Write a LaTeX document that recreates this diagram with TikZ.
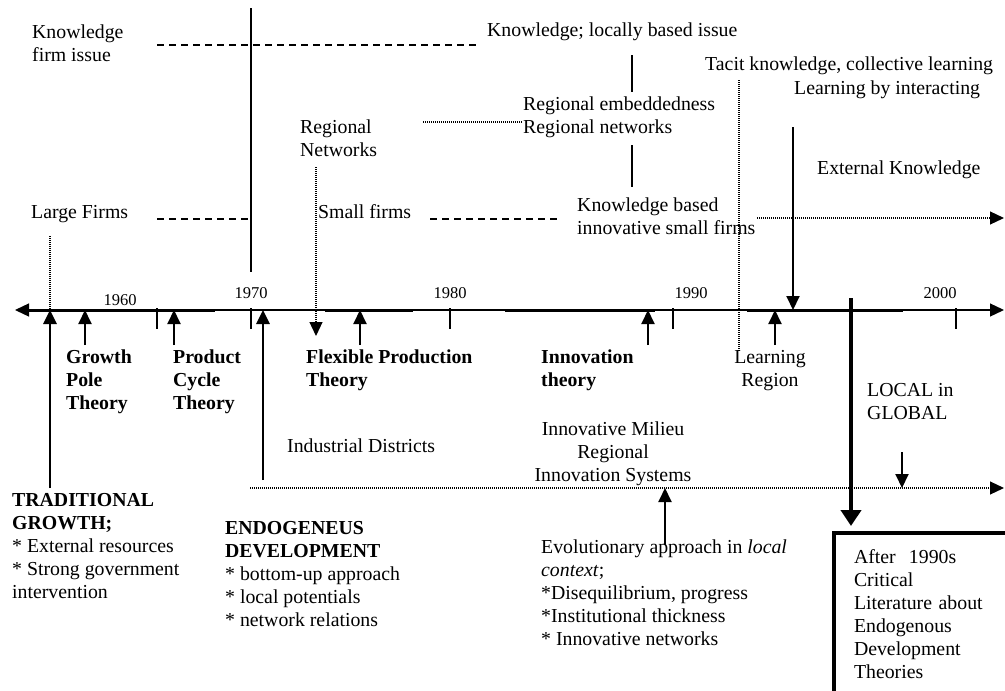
\documentclass[tikz,border=0pt]{standalone}
\usepackage{fontspec}
\setmainfont{Liberation Serif}
\usetikzlibrary{arrows.meta, calc}

\newcommand\bodysize{\fontsize{19.8}{23}\selectfont}

\tikzset{
  tri/.tip={Triangle[length=14pt, width=13pt]},
  txt/.style={inner sep=0pt, anchor=base west, align=left},
  bold/.style={txt, font=\bodysize\bfseries},
  ctxt/.style={inner sep=0pt, anchor=base, align=center},
  year/.style={inner sep=0pt, font=\fontsize{16.5}{19}\selectfont},
  plain/.style={line width=1.5pt},
  arr/.style={line width=2pt, -tri},
  longarr/.style={line width=2.8pt, -tri},
  bigarr/.style={line width=4.5pt, -{Triangle[length=16pt, width=20pt]}},
  dashline/.style={line width=1.5pt, dash pattern=on 6.5pt off 5.5pt},
  dotline/.style={line width=1.2pt, dash pattern=on 1pt off 1pt},
  critbox/.style={draw, line width=3.5pt, anchor=north west, outer sep=0pt,
    minimum width=180pt, minimum height=162pt, inner xsep=20pt,
    text width=140pt, align=left}
}

\begin{document}
\begin{tikzpicture}[x=1pt, y=-1pt, font=\bodysize]
\useasboundingbox (0,0) rectangle (1005,691);

%% time axis
\coordinate (tl) at (15,310);
\coordinate (tr) at (1004,310);
\draw[line width=1.3pt, tri-tri] (tl) -- (tr);
\foreach \a/\b in {20/215, 325/413, 505/655, 747/903}
  \draw[line width=3pt] (\a,310) -- (\b,310);
\foreach \x in {157, 251, 450, 673, 956}
  \draw[plain] (\x,308) -- (\x,329);

\node[year] (y60) at (120,300) {1960};
\node[year] (y70) at (251,293) {1970};
\node[year] (y80) at (450,293) {1980};
\node[year] (y90) at (691,293) {1990};
\node[year] (y00) at (940,293) {2000};

%% 1970 divider
\coordinate (v70) at (251,8);
\draw[plain] (v70) -- ++(0,264);

%% upper labels (base = last line)
\node[txt] (kfirm) at (32,61) {Knowledge\\firm issue};
\node[txt] (kloc) at (487,36) {Knowledge; locally based issue};
\node[txt] (tacit) at (705,70) {Tacit knowledge, collective learning};
\node[txt] (lbi) at (794,94) {Learning by interacting};
\node[txt] (embed) at (523,133) {Regional embeddedness\\Regional networks};
\node[txt] (regnet) at (300,156) {Regional\\Networks};
\node[txt] (extk) at (817,174) {External Knowledge};
\node[txt] (large) at (31,218) {Large Firms};
\node[txt] (small) at (318,218) {Small firms};
\node[txt] (kbased) at (577,234) {Knowledge based\\innovative small firms};

%% dashed links
\coordinate (dk) at (157,45);
\coordinate (dl) at (157,219);
\coordinate (ds) at (430,219);
\draw[dashline] (dk) -- ++(320,0);
\draw[dashline] (dl) -- (dl -| v70);
\draw[dashline] (ds) -- ++(127,0);

%% short solid links
\coordinate (s1) at (632,55);
\coordinate (s2) at (632,145);
\draw[plain] (s1) -- ++(0,37);
\draw[plain] (s2) -- ++(0,42);

%% dotted links
\coordinate (dv1) at (50,236);
\coordinate (dh1) at (423,122);
\coordinate (dv2) at (739,80);
\coordinate (dext) at (757,218);
\coordinate (dsys) at (250,488);
\draw[dotline] (dv1) -- (dv1 |- tl);
\draw[dotline] (dh1) -- (dh1 -| embed.west);
\draw[dotline] (dv2) -- ++(0,272);
\draw[dotline, -tri] (dext) -- (dext -| tr);
\draw[dotline, -tri] (dsys) -- (dsys -| tr);

%% arrows up to the axis
\foreach \x/\y/\s in {50/488/longarr, 85/345/arr, 174/345/arr, 263/480/longarr,
                      360/345/arr, 648/345/arr, 775/345/arr}{
  \coordinate (u\x) at (\x,\y);
  \draw[\s] (u\x) -- (u\x |- tl);
}

%% arrows down
\coordinate (rn) at (316,167);
\draw[dotline, -tri] (rn) -- ++(0,169);
\coordinate (lbd) at (793,127);
\draw[arr] (lbd) -- (lbd |- tl);
\coordinate (dn) at (902,452);
\draw[arr] (dn) -- (dn |- dsys);
\coordinate (ev) at (665,545);
\draw[arr] (ev) -- (ev |- dsys);

%% lower labels
\node[bold] (gpole) at (66,409) {Growth\\Pole\\Theory};
\node[bold] (pcycle) at (173,409) {Product\\Cycle\\Theory};
\node[bold] (flex) at (306,386) {Flexible Production\\Theory};
\node[bold] (innov) at (541,386) {Innovation\\theory};
\node[ctxt] (lreg) at (770,386) {Learning\\Region};
\node[txt] (local) at (867,419) {LOCAL in\\GLOBAL};
\node[txt] (indd) at (287,452) {Industrial Districts};
\node[ctxt] (milieu) at (613,481) {Innovative Milieu\\Regional\\Innovation Systems};

\node[txt] (trad) at (12,598) {\textbf{TRADITIONAL}\\\textbf{GROWTH;}\\* External resources\\* Strong government\\intervention};
\node[txt] (endo) at (225,626) {\textbf{ENDOGENEUS}\\\textbf{DEVELOPMENT}\\* bottom-up approach\\* local potentials\\* network relations};
\node[txt] (evol) at (541,645) {Evolutionary approach in \textit{local}\\\textit{context};\\*Disequilibrium, progress\\*Institutional thickness\\* Innovative networks};

%% critical literature box
\begin{scope}
\clip (0,0) rectangle (1005,691);
\node[critbox] (crit) at (834,533) {After\ \ 1990s\\Critical\\Literature about\\Endogenous\\Development\\Theories};
\end{scope}
\coordinate (lg) at (851,298);
\draw[bigarr] (lg) -- ($(lg |- crit.north)+(0,-7)$);

\end{tikzpicture}
\end{document}
